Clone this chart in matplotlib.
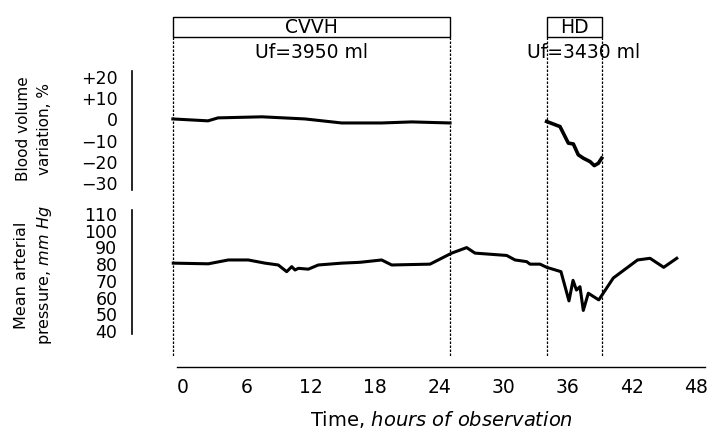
import matplotlib
matplotlib.use("Agg")
import matplotlib.pyplot as plt
from matplotlib.patches import Rectangle

# ---------------- data ----------------
# treatment periods (hours)
cvvh_period = (-0.95, 25.0)
hd_period = (34.05, 39.2)
cvvh_label = "CVVH"
hd_label = "HD"
cvvh_uf = "Uf=3950 ml"
hd_uf = "Uf=3430 ml"

# blood volume variation (%) during CVVH
bv_cvvh_t = [-0.95, 2.34, 3.28, 7.40, 11.42, 14.86, 18.60, 21.41, 25.0]
bv_cvvh_v = [0.2, -0.7, 0.7, 1.2, 0.2, -1.7, -1.7, -1.2, -1.7]
# blood volume variation (%) during HD
bv_hd_t = [34.05, 35.3, 36.08, 36.55, 37.01, 37.48, 38.11, 38.51, 38.89, 39.2]
bv_hd_v = [-1.0, -3.4, -11.2, -11.6, -16.7, -18.3, -19.9, -21.8, -20.7, -18.3]

# mean arterial pressure (mm Hg)
map_t = [-0.91, 2.37, 4.24, 6.11, 7.68, 8.92, 9.71, 10.18, 10.49, 10.80, 11.73,
         12.67, 14.86, 16.57, 18.6, 19.54, 23.13, 25.16, 26.56, 27.34, 30.31,
         31.09, 32.18, 32.49, 33.43, 34.05, 35.39, 36.14, 36.52, 36.84, 37.17,
         37.48, 37.95, 38.93, 40.29, 42.56, 43.73, 45.01, 46.23]
map_v = [80.6, 80.2, 82.5, 82.5, 80.6, 79.5, 75.5, 78.5, 76.5, 77.5, 77.0,
         79.5, 80.6, 81.1, 82.5, 79.5, 80.0, 86.6, 89.9, 86.6, 85.2,
         82.5, 81.5, 80.0, 80.0, 78.1, 75.5, 58.0, 70.3, 64.5, 66.5,
         52.3, 62.6, 58.6, 71.7, 82.5, 83.5, 78.1, 83.5]

x_ticks = [0, 6, 12, 18, 24, 30, 36, 42, 48]
bv_ticks = [20, 10, 0, -10, -20, -30]
bv_ticklabels = ["+20", "+10", "0", "\u221210", "\u221220", "\u221230"]
map_ticks = [110, 100, 90, 80, 70, 60, 50, 40]

# ---------------- layout ----------------
W, H = 708, 428
H0, S = 183.0, 10.68   # pixel of hour 0, pixels per hour


def hlim(L, R):
    return ((L - H0) / S, (R - H0) / S)


def rect(L, R, top, bottom):
    return [L / W, 1 - bottom / H, (R - L) / W, (bottom - top) / H]


fig = plt.figure(figsize=(W / 100, H / 100), dpi=100)
fig.patch.set_facecolor("white")

# background axes: boxes, dashed period lines (x in hours, y in pixels)
bg = fig.add_axes([0, 0, 1, 1])
bg.set_xlim(hlim(0, W))
bg.set_ylim(H, 0)
bg.axis("off")

box_top, box_bot, dash_bot = 17, 37, 356
for (a, b), lab in [(cvvh_period, cvvh_label), (hd_period, hd_label)]:
    bg.add_patch(Rectangle((a, box_top), b - a, box_bot - box_top,
                           fill=False, lw=1.0, ec="black"))
    bg.text((a + b) / 2, (box_top + box_bot) / 2 + 0.5, lab, ha="center",
            va="center", fontsize=13.5)
    bg.vlines([a, b], box_bot, dash_bot, colors="black", lw=0.9,
              linestyles=(0, (2.0, 1.2)))
cx = (cvvh_period[0] + cvvh_period[1]) / 2
hx = (hd_period[0] + hd_period[1]) / 2 + 0.85
bg.text(cx, 52, cvvh_uf, ha="center", va="center", fontsize=13.5)
bg.text(hx, 52, hd_uf, ha="center", va="center", fontsize=13.5)

# top panel: blood volume
ax1 = fig.add_axes(rect(132, W, 71, 190))
ax1.set_xlim(hlim(132, W))
ax1.set_ylim(-33.3, 22.8)
ax1.patch.set_alpha(0)
for s in ["top", "right", "bottom"]:
    ax1.spines[s].set_visible(False)
ax1.spines["left"].set_linewidth(1.2)
ax1.set_xticks([])
ax1.set_yticks(bv_ticks)
ax1.set_yticklabels(bv_ticklabels)
ax1.tick_params(axis="y", length=0, pad=10.5, labelsize=12.5)
ax1.plot(bv_cvvh_t, bv_cvvh_v, color="black", lw=2.2, solid_joinstyle="round")
ax1.plot(bv_hd_t, bv_hd_v, color="black", lw=2.6, solid_joinstyle="round")

# bottom panel: mean arterial pressure
ax2 = fig.add_axes(rect(132, W, 210, 334))
ax2.set_xlim(hlim(132, W))
ax2.set_ylim(38.2, 112.4)
ax2.patch.set_alpha(0)
for s in ["top", "right", "bottom"]:
    ax2.spines[s].set_visible(False)
ax2.spines["left"].set_linewidth(1.2)
ax2.set_xticks([])
ax2.set_yticks(map_ticks)
ax2.tick_params(axis="y", length=0, pad=10.5, labelsize=12.5)
ax2.plot(map_t, map_v, color="black", lw=2.2, solid_joinstyle="round")

# x axis
ax3 = fig.add_axes(rect(177, 705, 340, 367))
ax3.set_xlim(hlim(177, 705))
ax3.patch.set_alpha(0)
for s in ["top", "right", "left"]:
    ax3.spines[s].set_visible(False)
ax3.spines["bottom"].set_linewidth(1.0)
ax3.set_yticks([])
ax3.set_xticks(x_ticks)
ax3.tick_params(axis="x", length=0, pad=8, labelsize=13.5)

# axis titles
fig.text(34 / W, 1 - 129 / H, "Blood volume\nvariation, %", rotation=90,
         ha="center", va="center", fontsize=11, linespacing=1.5,
         multialignment="center")
fig.text(34 / W, 1 - 275 / H, "Mean arterial\npressure, $\\mathit{mm\\ Hg}$",
         rotation=90, ha="center", va="center", fontsize=11.5,
         linespacing=1.5, multialignment="center")
fig.text(441 / W, 1 - 419 / H,
         "Time, $\\mathit{hours\\ of\\ observation}$", ha="center",
         va="center", fontsize=14)

fig.savefig("out.png", dpi=100, facecolor="white")
